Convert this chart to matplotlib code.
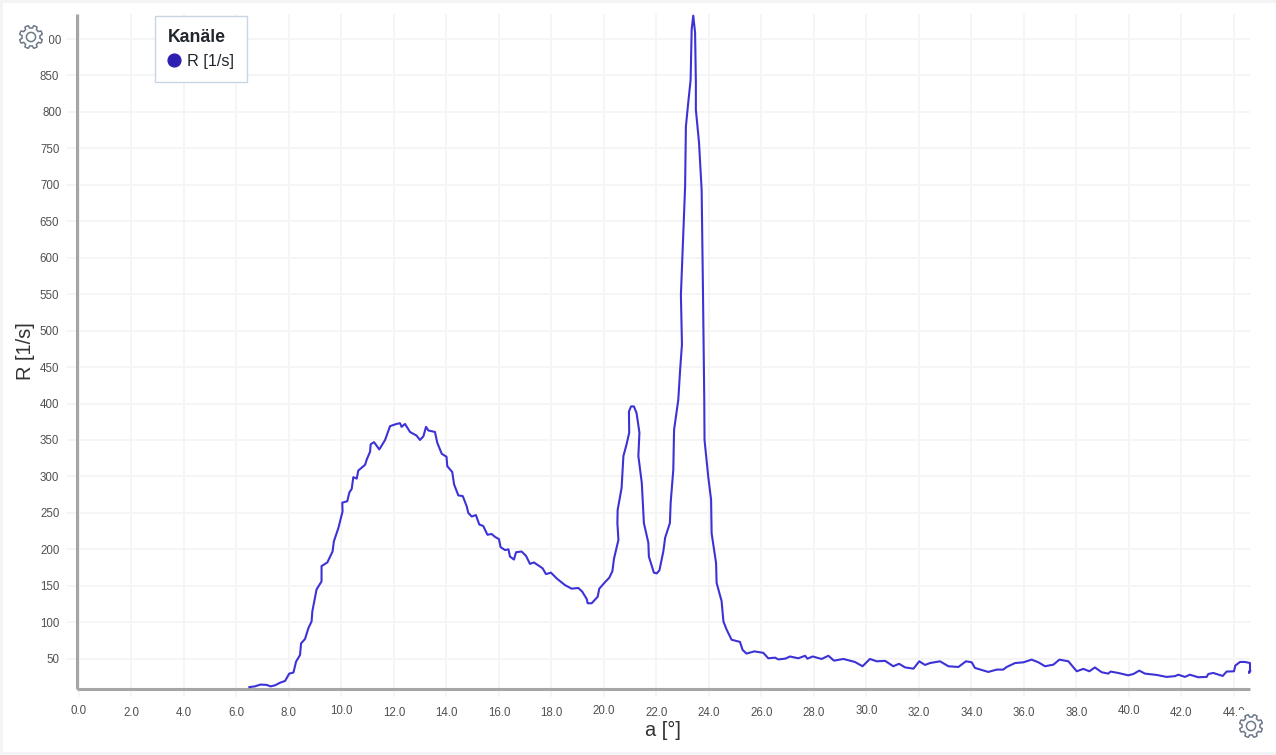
import matplotlib
matplotlib.use("Agg")
import matplotlib.pyplot as plt
from matplotlib.lines import Line2D
from matplotlib.patches import Rectangle, Polygon, Circle
import numpy as np

plt.rcParams['font.family'] = ['Liberation Sans', 'DejaVu Sans']

angle = [6.49,6.70,6.92,7.15,7.30,7.47,7.66,7.85,8.01,8.17,8.27,8.42,8.46,8.61,8.74,8.86,8.89,9.05,9.24,9.24,
 9.46,9.66,9.71,9.88,10.04,10.03,10.22,10.30,10.39,10.45,10.58,10.64,10.90,10.96,11.09,11.11,11.24,11.44,11.66,11.85,
 12.10,12.23,12.29,12.42,12.61,12.86,12.99,13.12,13.22,13.31,13.56,13.65,13.82,14.00,14.03,14.22,14.29,14.45,14.62,14.77,
 14.83,14.96,15.12,15.25,15.40,15.56,15.72,15.85,16.00,16.06,16.23,16.36,16.42,16.57,16.65,16.86,17.03,17.18,17.33,17.66,
 17.79,17.98,18.20,18.51,18.77,19.02,19.17,19.34,19.38,19.53,19.76,19.82,20.04,20.20,20.32,20.38,20.55,20.51,20.52,20.67,
 20.74,20.86,20.96,20.95,21.03,21.14,21.24,21.35,21.31,21.44,21.52,21.69,21.71,21.90,22.01,22.11,22.26,22.33,22.51,22.54,
 22.64,22.67,22.83,22.90,22.97,22.93,23.09,23.12,23.21,23.30,23.34,23.40,23.47,23.50,23.50,23.62,23.72,23.77,23.82,
 23.83,23.97,24.08,24.10,24.27,24.29,24.48,24.55,24.67,24.86,25.18,25.28,25.43,25.73,26.07,26.26,26.52,26.64,26.90,27.09,
 27.40,27.66,27.75,27.95,28.29,28.55,28.76,29.12,29.56,29.85,30.13,30.39,30.71,31.02,31.24,31.47,31.79,32.01,32.23,32.42,
 32.80,33.12,33.50,33.79,34.01,34.13,34.64,34.96,35.21,35.34,35.66,35.98,36.29,36.55,36.80,37.12,37.35,37.69,38.01,38.26,
 38.49,38.70,38.96,39.21,39.30,39.59,39.97,40.17,40.39,40.61,41.05,41.43,41.75,41.88,42.13,42.32,42.64,42.96,43.02,43.21,
 43.57,43.72,44.00,44.05,44.23,44.42,44.61,44.61,44.57,44.62]
rate = [11,12,14.5,14,12,13.5,17,19.4,29.5,31,46,55,71,77,92,101,115,145,156,177,
 182,197,211,229,252,264,266,278,283,299,297,308,316,323,334,344,347,337,350,369,
 372,373,368,372,361,356,350,355,368,363,361,346,331,327,314,306,289,274,273,259,
 250,245,247,234,232,220,221,217,214,203,199,200,190,186,196,197,191,180,182,174,
 166,168,160,151,146,147,142,132,126,126,135,146,155,161,170,187,213,236,254,284,
 328,344,360,389,396,396,387,360,328,291,236,209,190,168,167,171,197,216,236,264,
 309,364,405,446,481,549,697,780,813,844,913,932,909,840,803,758,693,556,405,
 350,300,268,222,181,154,129,101,90,76,73,62,57,60,58,50.5,51.4,49,50,53,
 50.5,54,50,53,49.6,54,47.3,49.6,45.5,39.6,49.6,46.4,47,39.6,43,38,36.3,46.4,41.4,44,
 46.4,39.6,38.6,46.4,45,37.3,31.8,35,35,38.6,44,45,48.7,45,39.6,41.8,48.7,46.4,32.7,36,
 32.7,38,31.4,29.5,32.3,30.4,27.2,29,33.6,29.5,27.7,25,26,28,25,28,24.5,25,29,30.4,
 26.3,32.3,32.7,40.5,45.5,45.5,44,35,30.4,33]
x_ticks = list(range(0, 46, 2))
y_ticks = list(range(50, 901, 50))
series_name = "R [1/s]"
legend_title = "Kanäle"

W, H = 1276, 755
fig = plt.figure(figsize=(W/100, H/100), dpi=100, facecolor='#f3f4f6')
fig.patches.append(Rectangle((3/W, 3/H), 1, 1-6/H, transform=fig.transFigure, fc='white', ec='none', zorder=-10))

L, R_, T, B = 77, 1250, 14, 689
ax = fig.add_axes([L/W, 1-B/H, (R_-L)/W, (B-T)/H], facecolor='white')
ax.patch.set_alpha(0)
ax.set_xlim(-0.076, 44.61)
ax.set_ylim(8.4, 934.3)

GRID = '#f4f5f6'
ax.set_xticks(x_ticks, [f"{v:.1f}" for v in x_ticks])
ax.set_yticks(y_ticks, [str(v) for v in y_ticks])
ax.grid(True, color=GRID, lw=1.3, zorder=0)
ax.set_axisbelow(True)
ax.tick_params(axis='x', length=5.8, width=1.3, color=GRID, pad=7, labelsize=8.3, labelcolor='#505050')
ax.tick_params(axis='y', length=7.2, width=1.3, color=GRID, pad=5.5, labelsize=8.3, labelcolor='#505050')
for v, t in zip(x_ticks, ax.xaxis.get_major_ticks()):
    if v % 10 == 0:
        t.set_pad(5.5)
for v, t in zip(y_ticks, ax.yaxis.get_major_ticks()):
    if v in (800, 900):
        t.set_pad(4)

for s in ('top', 'right'):
    ax.spines[s].set_visible(False)
for s in ('left', 'bottom'):
    ax.spines[s].set_color('#a6a6a6')
    ax.spines[s].set_linewidth(2.2)
    ax.spines[s].set_capstyle('butt')

ax.plot(angle, rate, color='#3d32d6', lw=1.5, solid_joinstyle='round', zorder=3, clip_on=False)

fig.text(25.5/W, 1-351/H, "R [1/s]", rotation=90, ha='center', va='center', fontsize=14.4, color='#333333')
fig.text(663/W, 1-730/H, "a [°]", ha='center', va='center', fontsize=14.4, color='#333333')

handle = Line2D([], [], ls='none', marker='o', ms=9.2, mfc='#2f1fb0', mec='#2f1fb0', label=series_name)
leg = ax.legend(handles=[handle], title=legend_title, loc='upper left',
                bbox_to_anchor=(155/W, 1-16/H), bbox_transform=fig.transFigure,
                borderaxespad=0, fontsize=11.7, frameon=True, fancybox=False,
                edgecolor='#c8d5e2', facecolor='white', framealpha=1,
                borderpad=0.8, handlelength=0.75, handletextpad=0.4,
                labelspacing=0.5, title_fontproperties={'weight': 'bold', 'size': 12.7})
leg._legend_box.align = 'left'
leg.get_title().set_color('#22272e')
leg.get_texts()[0].set_color('#22272e')
leg.get_frame().set_linewidth(1)
leg.set_zorder(6)

# settings icons in pixel coordinates, each on a white patch
ov = fig.add_axes([0, 0, 1, 1], facecolor='none')
ov.set_xlim(0, W); ov.set_ylim(H, 0); ov.axis('off')
def gear(cx, cy):
    t = np.linspace(0, 2*np.pi, 289)
    r = 11.6 - 2.6*np.clip(1.6*np.cos(8*t), -0.5, 0.5) - 1.3
    ov.add_patch(Polygon(np.c_[cx + r*np.cos(t), cy + r*np.sin(t)], closed=True, fc='none', ec='#6f7a8a', lw=1.1, joinstyle='round'))
    ov.add_patch(Circle((cx, cy), 4.6, fc='none', ec='#6f7a8a', lw=1.1))
ov.add_patch(Rectangle((17, 22), 32, 30, fc='white', ec='none'))
ov.add_patch(Rectangle((1237, 710), 29, 31, fc='white', ec='none'))
gear(31, 37)
gear(1251, 726)

fig.savefig('out.png', dpi=100, facecolor=fig.get_facecolor())
